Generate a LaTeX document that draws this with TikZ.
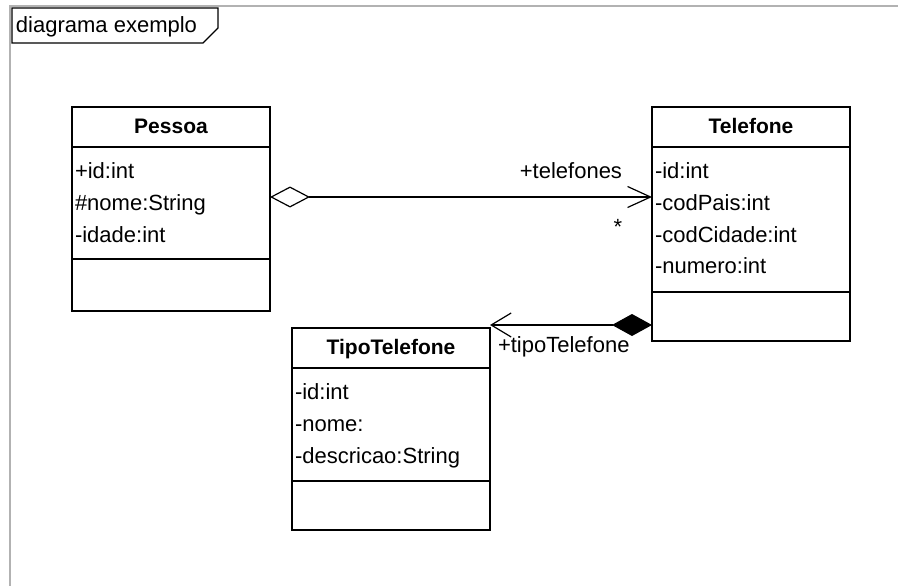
\documentclass[tikz,border=0pt]{standalone}
\usepackage{fontspec}
\setmainfont{Liberation Sans}
\usetikzlibrary{arrows.meta}

\begin{document}
\begin{tikzpicture}[x=1pt,y=-1pt,
  every node/.style={font=\fontsize{22}{26}\selectfont, inner sep=0pt, outer sep=0pt},
  classbox/.style={draw, line width=1.2pt, minimum width=198pt, fill=white},
  sep/.style={line width=1.2pt},
  ctitle/.style={anchor=base, font=\fontsize{21}{25}\selectfont\bfseries},
  attr/.style={anchor=base west},
  conn/.style={line width=1.2pt},
  frameline/.style={gray!60, line width=1.5pt},
]
\useasboundingbox (0,0) rectangle (898,586);

% diagram frame and its name tab
\draw[frameline] (10,586) -- (10,6) -- (898,6);
\draw[line width=1.3pt, fill=white] (12,8) -- (218,8) -- (218,28) -- (203,43) -- (12,43) -- cycle;
\node[attr] (frameName) at (16,33) {diagrama exemplo};

% class Pessoa
\node[classbox, minimum height=204pt] (pessoa) at (171,209) {};
\draw[sep] ([yshift=-40pt]pessoa.north west) -- ([yshift=-40pt]pessoa.north east);
\draw[sep] ([yshift=-152pt]pessoa.north west) -- ([yshift=-152pt]pessoa.north east);
\node[ctitle] (pessoaName) at (171,133) {Pessoa};
\node[attr] (pessoaA1) at (75,178) {+id:int};
\node[attr] (pessoaA2) at (75,210) {\#nome:String};
\node[attr] (pessoaA3) at (75,242) {-idade:int};

% class Telefone
\node[classbox, minimum height=234pt] (telefone) at (751,224) {};
\draw[sep] ([yshift=-40pt]telefone.north west) -- ([yshift=-40pt]telefone.north east);
\draw[sep] ([yshift=-185pt]telefone.north west) -- ([yshift=-185pt]telefone.north east);
\node[ctitle] (telefoneName) at (751,133) {Telefone};
\node[attr] (telefoneA1) at (655,178) {-id:int};
\node[attr] (telefoneA2) at (655,210) {-codPais:int};
\node[attr] (telefoneA3) at (655,242) {-codCidade:int};
\node[attr] (telefoneA4) at (655,273) {-numero:int};

% class TipoTelefone
\node[classbox, minimum height=202pt] (tipo) at (391,429) {};
\draw[sep] ([yshift=-40pt]tipo.north west) -- ([yshift=-40pt]tipo.north east);
\draw[sep] ([yshift=-153pt]tipo.north west) -- ([yshift=-153pt]tipo.north east);
\node[ctitle] (tipoName) at (391,354) {TipoTelefone};
\node[attr] (tipoA1) at (295,399) {-id:int};
\node[attr] (tipoA2) at (295,431) {-nome:};
\node[attr] (tipoA3) at (295,463) {-descricao:String};

% aggregation Pessoa -> Telefone
\coordinate (rowAgg) at (0,197);
\draw[conn, {Diamond[open, fill=white, length=40pt, width=21pt]}-{Straight Barb[length=23pt, width=21pt]}]
  (pessoa.east |- rowAgg) -- (telefone.west |- rowAgg);
\node[anchor=base east] (roleTel) at (622,178) {+telefones};
\node[anchor=base] (multTel) at (618,234) {*};

% composition Telefone -> TipoTelefone
\coordinate (rowComp) at (0,325);
\draw[conn, {Straight Barb[length=20pt, width=24pt]}-{Diamond[length=40pt, width=22pt]}]
  (tipo.east |- rowComp) -- (telefone.west |- rowComp);
\node[attr] (roleTipo) at (498,352) {+tipoTelefone};
\end{tikzpicture}
\end{document}
